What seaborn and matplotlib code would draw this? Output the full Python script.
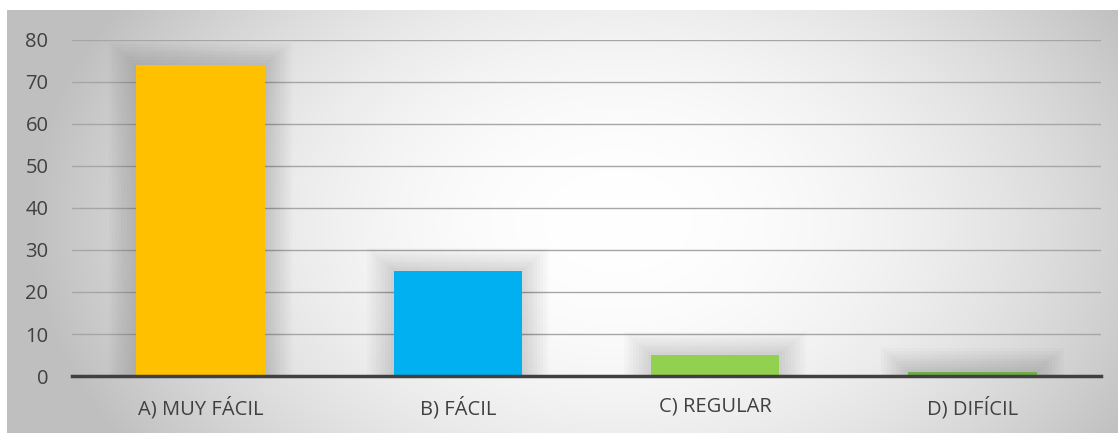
import numpy as np
import pandas as pd
import matplotlib
matplotlib.use("Agg")
import matplotlib.pyplot as plt
from matplotlib.patches import Rectangle
import seaborn as sns

categories = ["A) MUY FÁCIL", "B) FÁCIL", "C) REGULAR", "D) DIFÍCIL"]
values = [74, 25, 5, 1]
colors = ["#FFC000", "#00B0F0", "#92D050", "#70AD47"]
y_ticks = [0, 10, 20, 30, 40, 50, 60, 70, 80]

sns.set_theme(style="white")
plt.rcParams["font.family"] = ["Open Sans", "DejaVu Sans"]
text_color = "#404040"

W, H = 1118, 433
fig = plt.figure(figsize=(W / 100, H / 100), dpi=100)
fig.patch.set_facecolor("white")

# Radial gradient backdrop (light centre, grey rim)
bg = fig.add_axes([7 / W, 0, 1 - 7 / W, (H - 10) / H])
bg.set_axis_off()
ny, nx = 300, 800
yy, xx = np.mgrid[0:1:ny * 1j, 0:1:nx * 1j]
r = np.sqrt(((xx - 0.55) / 0.52) ** 2 + ((yy - 0.5) / 0.95) ** 2)
shade = np.clip(1.0 - 0.24 * r ** 2, 0.75, 1.0)
bg.imshow(np.dstack([shade, shade, shade]), extent=[0, 1, 0, 1],
          aspect="auto", origin="lower", interpolation="bilinear")
bg.set_xlim(0, 1)
bg.set_ylim(0, 1)

ax = fig.add_axes([72 / W, 1 - 376 / H, (1101 - 72) / W, (376 - 40) / H])
ax.patch.set_alpha(0)

df = pd.DataFrame({"cat": categories, "val": values})
sns.barplot(data=df, x="cat", y="val", hue="cat", palette=colors,
            width=0.5, legend=False, ax=ax, zorder=3, saturation=1,
            edgecolor="none", linewidth=0)

# soft glow behind each bar
unit_x = 1.0 / ((1101 - 72) / 4)   # one pixel in category units
unit_y = 80.0 / (376 - 40)         # one pixel in data units
for p in list(ax.patches):
    x0, w, h = p.get_x(), p.get_width(), p.get_height()
    for k in range(1, 10):
        dx = 3.0 * k * unit_x
        dy = 2.6 * k * unit_y
        ax.add_patch(Rectangle((x0 - dx, 0), w + 2 * dx, h + dy,
                               facecolor="black", alpha=0.014,
                               edgecolor="none", zorder=2))

ax.set_ylim(0, 80)
ax.set_xlim(-0.5, len(categories) - 0.5)
ax.set_yticks(y_ticks)
ax.set_yticklabels([str(t) for t in y_ticks], fontsize=14.5, color=text_color)
ax.tick_params(axis="y", length=0, pad=17)
ax.set_xticks(range(len(categories)))
ax.set_xticklabels(categories)
ax.tick_params(axis="x", length=0, pad=15, labelsize=14.5, labelcolor=text_color)
ax.set_xticks(np.arange(-0.5, len(categories), 1.0), minor=True)
ax.tick_params(axis="x", which="minor", length=5, width=2.2, color=text_color,
               direction="out")
ax.set_xlabel("")
ax.set_ylabel("")

ax.grid(axis="y", color="#a6a6a6", linewidth=1.0, zorder=0)
ax.set_axisbelow(True)
for side in ["top", "right", "left"]:
    ax.spines[side].set_visible(False)
ax.spines["bottom"].set_color(text_color)
ax.spines["bottom"].set_linewidth(2.5)
ax.spines["bottom"].set_zorder(5)

fig.savefig("out.png", dpi=100)
